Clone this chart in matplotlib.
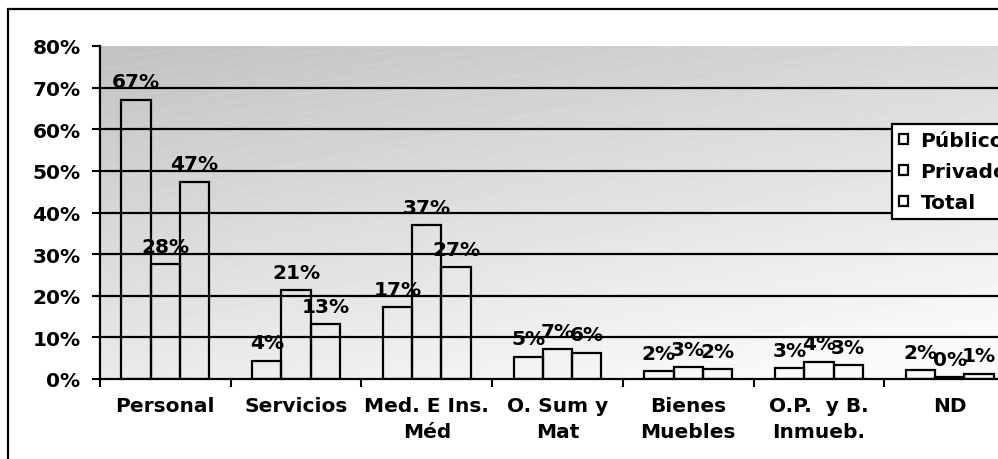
import numpy as np
import matplotlib
matplotlib.use('Agg')
import matplotlib.pyplot as plt
from matplotlib.patches import Rectangle

plt.rcParams['font.family'] = ['DejaVu Sans']
plt.rcParams['font.weight'] = 'bold'

categorias = ['Personal', 'Servicios', 'Med. E Ins.\nMéd', 'O. Sum y\nMat',
              'Bienes\nMuebles', 'O.P.  y B.\nInmueb.', 'ND']
publico = [67.1, 4.4, 17.2, 5.4, 1.9, 2.6, 2.2]
privado = [27.6, 21.3, 36.9, 7.2, 2.8, 4.2, 0.4]
total = [47.4, 13.2, 26.8, 6.3, 2.3, 3.3, 1.3]
series = ['Público', 'Privado', 'Total']
yticks = [0, 10, 20, 30, 40, 50, 60, 70, 80]

W, H = 998, 460
fs = 14.5
fig = plt.figure(figsize=(W / 100, H / 100), dpi=100)
ax = fig.add_axes([100 / W, 1 - 380 / H, (1015 - 100) / W, (380 - 47) / H])

# gradient background, dark top-left to light bottom-right
gx, gy = np.meshgrid(np.linspace(0, 1, 200), np.linspace(0, 1, 100))
g = 0.76 + 0.22 * np.clip(0.7 * gy + 0.4 * gx, 0, 1)
ax.imshow(g, cmap='gray', vmin=0, vmax=1, extent=[-0.5, 6.5, 0, 80],
          origin='upper', aspect='auto', zorder=0, interpolation='bilinear')
for k in np.arange(-1.5, 1.0, 0.03):
    ax.plot([0, 1], [k, k + 0.35], transform=ax.transAxes, color='white',
            lw=0.5, ls=(0, (8, 5)), alpha=0.25, zorder=0.2)

x = np.arange(len(categorias))
w = 0.224
for i, vals in enumerate([publico, privado, total]):
    bars = ax.bar(x + (i - 1) * w, vals, w, fill=False, edgecolor='black',
                  linewidth=1.6, label=series[i], zorder=2)
    for b, v in zip(bars, vals):
        ax.annotate('%d%%' % round(v), (b.get_x() + b.get_width() / 2, v),
                    xytext=(0, 6), textcoords='offset points', ha='center',
                    va='bottom', fontsize=fs, fontweight='bold', zorder=3)

ax.set_xlim(-0.5, 6.5)
ax.set_ylim(0, 80)
ax.set_yticks(yticks)
ax.set_yticklabels(['%d%%' % t for t in yticks])
ax.set_xticks(np.arange(-0.5, 7, 1))
ax.set_xticklabels([])
ax.set_xticks(x, minor=True)
ax.set_xticklabels(categorias, minor=True, fontsize=fs, fontweight='bold',
                   linespacing=1.5)
ax.tick_params(axis='x', which='minor', length=0, pad=12)
ax.tick_params(axis='x', which='major', length=6, width=1.5, direction='out')
ax.tick_params(axis='y', length=6, width=1.5, pad=8, labelsize=fs)
for t in ax.get_yticklabels():
    t.set_fontweight('bold')

ax.yaxis.grid(True, color='black', lw=1.6)
ax.set_axisbelow(True)
ax.get_ygridlines()[-1].set_visible(False)
ax.get_ygridlines()[0].set_visible(False)
for s in ['top', 'right']:
    ax.spines[s].set_visible(False)
for s in ['left', 'bottom']:
    ax.spines[s].set_linewidth(1.6)
    ax.spines[s].set_zorder(4)

leg = ax.legend(loc='upper left', bbox_to_anchor=(892 / W, 1 - 125 / H),
                bbox_transform=fig.transFigure, fontsize=fs, frameon=True,
                fancybox=False, borderaxespad=0, borderpad=0.35,
                handlelength=0.42, handleheight=0.42, handletextpad=0.65,
                labelspacing=0.6, edgecolor='black', framealpha=1)
leg.get_frame().set_linewidth(1.6)
leg.set_zorder(5)
for t in leg.get_texts():
    t.set_fontweight('bold')

# outer frame of the chart
fig.patches.append(Rectangle((8 / W, -0.1), 1.2, 1 - 10 / H + 0.1,
                             transform=fig.transFigure, fill=False,
                             edgecolor='black', lw=1.6))

fig.savefig('out.png', dpi=100)
